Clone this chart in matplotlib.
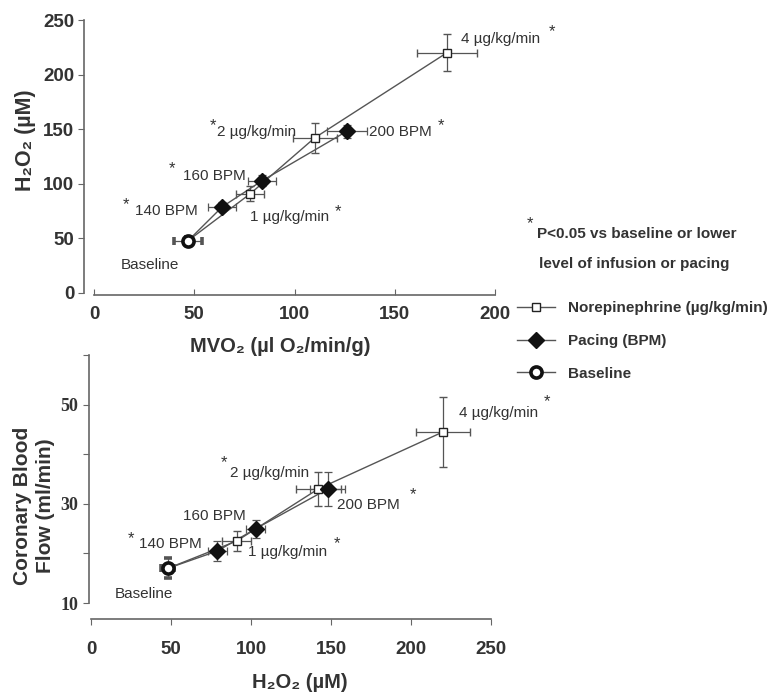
import matplotlib
matplotlib.use("Agg")
import matplotlib.pyplot as plt
from matplotlib.lines import Line2D

SANS = ["Liberation Sans", "DejaVu Sans"]
plt.rcParams["font.family"] = SANS

INK = "#333333"
LINE = "#555555"

# ---- data ----
base_mvo2, base_mvo2_err = 47, 7
base_h2o2, base_h2o2_err_top, base_h2o2_err_bot = 48, 3, 4
base_cbf, base_cbf_err = 17, 2

ne_mvo2 = [78, 110, 176]
ne_mvo2_err = [7, 11, 15]
ne_h2o2 = [91, 142, 220]
ne_h2o2_err_top = [7, 14, 17]
ne_h2o2_err_bot = [9, 14, 17]
ne_cbf = [22.5, 33, 44.5]
ne_cbf_err = [2, 3.5, 7]

pace_mvo2 = [64, 84, 126]
pace_mvo2_err = [7, 7, 10]
pace_h2o2 = [79, 103, 148]
pace_h2o2_err_top = [4, 5, 6]
pace_h2o2_err_bot = [6, 6, 11]
pace_cbf = [20.5, 25, 33]
pace_cbf_err = [2, 1.8, 3.5]

top_xticks = [0, 50, 100, 150, 200]
top_yticks = [0, 50, 100, 150, 200, 250]
bot_xticks = [0, 50, 100, 150, 200, 250]
bot_yticks = [10, 20, 30, 40, 50, 60]
bot_ylabels = ["10", "", "30", "", "50", ""]

fig = plt.figure(figsize=(7.72, 6.95), dpi=100)
ax1 = fig.add_axes([0.1088, 0.5753, 0.5324, 0.3959])
ax2 = fig.add_axes([0.1158, 0.1094, 0.5202, 0.3798])


def draw_panel(ax, bx, by, bxe, bye, nx, ny, nxe, nye, px, py, pxe, pye):
    ax.patch.set_visible(False)
    ax.plot([bx] + nx, [by] + ny, color=LINE, lw=1.0, zorder=2)
    ax.plot([bx] + px, [by] + py, color=LINE, lw=1.0, zorder=2)
    ekw = dict(ecolor=LINE, elinewidth=0.9, capsize=3, capthick=0.9, ls="none")
    ax.errorbar(nx, ny, xerr=nxe, yerr=nye, marker="s", ms=5.5, mfc="white",
                mec="#222222", mew=1.0, zorder=4, **ekw)
    ax.errorbar(px, py, xerr=pxe, yerr=pye, marker="D", ms=8, mfc="#111111",
                mec="#111111", zorder=4, **ekw)
    ax.errorbar([bx], [by], xerr=[bxe], yerr=[bye], marker="o", ms=8,
                mfc="white", mec="#111111", mew=2.6, zorder=5, **ekw)
    for s in ("top", "right"):
        ax.spines[s].set_visible(False)
    for s in ("left", "bottom"):
        ax.spines[s].set_color("#666666")
        ax.spines[s].set_linewidth(1.2)


def label(ax, x, y, s, size=11):
    ax.text(x, y, s, fontsize=size, color=INK, ha="left", va="center")


# ---- top panel ----
draw_panel(ax1, base_mvo2, base_h2o2, base_mvo2_err, base_h2o2_err_top,
           ne_mvo2, ne_h2o2, ne_mvo2_err, ne_h2o2_err_top,
           pace_mvo2, pace_h2o2, pace_mvo2_err, pace_h2o2_err_top)
ax1.set_xlim(-5, 200)
ax1.set_ylim(-2, 250)
ax1.spines["bottom"].set_bounds(0, 200)
ax1.spines["left"].set_bounds(0, 250)
ax1.set_xticks(top_xticks)
ax1.set_yticks(top_yticks)
ax1.tick_params(axis="x", direction="in", length=4, pad=8, colors="#666666",
                labelcolor=INK, labelsize=13.5)
ax1.tick_params(axis="y", direction="out", length=4, pad=3, colors="#666666",
                labelcolor=INK, labelsize=13.5)
for t in ax1.get_xticklabels() + ax1.get_yticklabels():
    t.set_fontweight("bold")
ax1.set_xlabel("MVO₂ (µl O₂/min/g)", fontsize=14.5, fontweight="bold", color=INK)
ax1.xaxis.set_label_coords(0.478, -0.152)
ax1.set_ylabel("H₂O₂ (µM)", fontsize=15.5, fontweight="bold", color=INK)
ax1.yaxis.set_label_coords(-0.117, 0.564)

label(ax1, 183, 233, "4 µg/kg/min")
label(ax1, 227, 239, "*", 12)
label(ax1, 57.5, 153, "*", 12)
label(ax1, 61.5, 147, "2 µg/kg/min")
label(ax1, 137, 147.5, "200 BPM")
label(ax1, 171.5, 153, "*", 12)
label(ax1, 37.5, 114, "*", 12)
label(ax1, 44.5, 107, "160 BPM")
label(ax1, 14.5, 81, "*", 12)
label(ax1, 20.5, 75.5, "140 BPM")
label(ax1, 78, 70, "1 µg/kg/min")
label(ax1, 120, 74.5, "*", 12)
label(ax1, 13.5, 25.5, "Baseline")

# ---- bottom panel ----
draw_panel(ax2, base_h2o2, base_cbf, base_h2o2_err_bot, base_cbf_err,
           ne_h2o2, ne_cbf, ne_h2o2_err_bot, ne_cbf_err,
           pace_h2o2, pace_cbf, pace_h2o2_err_bot, pace_cbf_err)
ax2.set_xlim(-1, 250)
ax2.set_ylim(6.8, 60)
ax2.spines["bottom"].set_bounds(0, 250)
ax2.spines["left"].set_bounds(10, 60)
ax2.set_xticks(bot_xticks)
ax2.set_yticks(bot_yticks)
ax2.set_yticklabels(bot_ylabels)
ax2.tick_params(axis="x", direction="out", length=4, pad=12, colors="#666666",
                labelcolor=INK, labelsize=13.5)
ax2.tick_params(axis="y", direction="out", length=4, pad=4, colors="#666666",
                labelcolor=INK, labelsize=13)
for t in ax2.get_xticklabels():
    t.set_fontweight("bold")
for t in ax2.get_yticklabels():
    t.set_fontweight("bold")
    t.set_family(["Liberation Serif", "DejaVu Serif"])
ax2.set_xlabel("H₂O₂ (µM)", fontsize=14.5, fontweight="bold", color=INK)
ax2.xaxis.set_label_coords(0.524, -0.205)
ax2.set_ylabel("Coronary Blood\nFlow (ml/min)", fontsize=15,
               fontweight="bold", color=INK, linespacing=1.25)
ax2.yaxis.set_label_coords(-0.086, 0.428)

label(ax2, 230, 48.4, "4 µg/kg/min")
label(ax2, 283, 50.6, "*", 12)
label(ax2, 81, 38.3, "*", 12)
label(ax2, 87, 36.3, "2 µg/kg/min")
label(ax2, 154, 29.8, "200 BPM")
label(ax2, 199.5, 31.8, "*", 12)
label(ax2, 57.5, 27.6, "160 BPM")
label(ax2, 23, 22.9, "*", 12)
label(ax2, 30, 21.9, "140 BPM")
label(ax2, 98, 20.3, "1 µg/kg/min")
label(ax2, 151.5, 22.0, "*", 12)
label(ax2, 15, 11.8, "Baseline")

# ---- footnote and legend ----
fig.text(527 / 772, 1 - 224 / 695, "*", fontsize=12, color=INK, va="center")
fig.text(537 / 772, 1 - 234 / 695, "P<0.05 vs baseline or lower", fontsize=11,
         fontweight="bold", color=INK, va="center")
fig.text(539 / 772, 1 - 264 / 695, "level of infusion or pacing", fontsize=11,
         fontweight="bold", color=INK, va="center")

handles = [
    Line2D([], [], color=LINE, lw=1.0, marker="s", ms=6, mfc="white",
           mec="#222222"),
    Line2D([], [], color=LINE, lw=1.0, marker="D", ms=8, mfc="#111111",
           mec="#111111"),
    Line2D([], [], color=LINE, lw=1.0, marker="o", ms=8, mfc="white",
           mec="#111111", mew=2.6),
]
names = ["Norepinephrine (µg/kg/min)", "Pacing (BPM)", "Baseline"]
leg = fig.legend(handles, names, loc="upper left",
                 bbox_to_anchor=(0.662, 0.575), frameon=False,
                 prop={"weight": "bold", "size": 11, "family": SANS},
                 labelspacing=1.22, handlelength=2.5, handletextpad=0.85,
                 numpoints=1, borderaxespad=0)
for t in leg.get_texts():
    t.set_color(INK)

fig.savefig("out.png", dpi=100)
